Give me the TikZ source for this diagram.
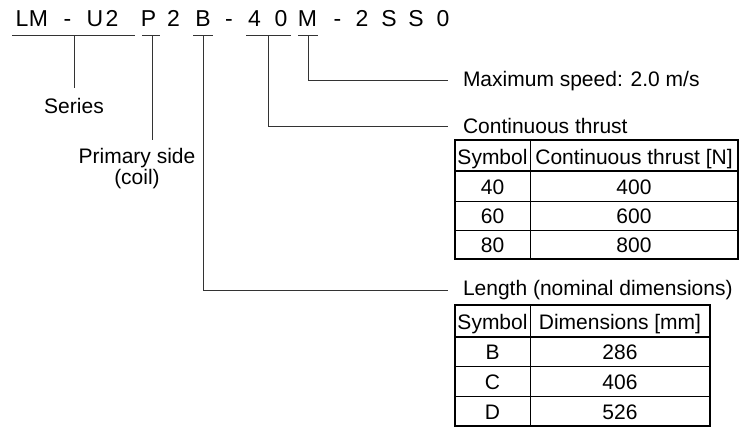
\documentclass[tikz,border=0pt]{standalone}
\usepackage{fontspec}
\setmainfont{Liberation Sans}
\begin{document}
\begin{tikzpicture}[x=1pt,y=-1pt,
  every node/.style={inner sep=0pt, outer sep=0pt},
  ch/.style={anchor=base, font=\fontsize{23}{27}\selectfont},
  lbl/.style={font=\fontsize{21}{25}\selectfont},
  cell/.style={anchor=base, font=\fontsize{21}{25}\selectfont},
  conn/.style={line width=1pt, black!80},
  uline/.style={line width=1pt, black!80},
  outer/.style={line width=2.6pt},
  hsep/.style={line width=2pt},
  inner/.style={line width=1pt}]
\useasboundingbox (0,0) rectangle (741,429);

% model code characters
\foreach \x/\c [count=\i] in {22/L,38.5/M,67.5/-,95/U,112/2,148.5/P,173.5/2,203/B,229/-,254.5/4,281/0,307.5/M,337.5/-,362/2,389/S,416/S,443/0}
  \node[ch] (c\i) at (\x,26) {\c};

% underlines
\coordinate (u1a) at (12,35);  \coordinate (u1b) at (135,35);
\coordinate (u2a) at (142,35); \coordinate (u2b) at (160,35);
\coordinate (u3a) at (193,35); \coordinate (u3b) at (213,35);
\coordinate (u4a) at (246,35); \coordinate (u4b) at (291,35);
\coordinate (u5a) at (298,35); \coordinate (u5b) at (318,35);
\draw[uline] (u1a) -- (u1b);
\draw[uline] (u2a) -- (u2b);
\draw[uline] (u3a) -- (u3b);
\draw[uline] (u4a) -- (u4b);
\draw[uline] (u5a) -- (u5b);

% stem tops
\coordinate (sSeries) at (74,35);
\coordinate (sPrim) at (152,35);
\coordinate (sLen) at (203,35);
\coordinate (sThr) at (268,35);
\coordinate (sSpd) at (308,35);

% labels
\node[lbl, anchor=base] (series) at (74,113) {Series};
\node[lbl, anchor=base] (prim) at (137,163) {Primary side};
\node[lbl, anchor=base] (coil) at (137,184) {(coil)};
\node[lbl, anchor=base west] (spd) at (463,86) {Maximum speed: 2.0 m/s};
\node[lbl, anchor=base west] (thr) at (463,133) {Continuous thrust};
\node[lbl, anchor=base west] (len) at (463,295) {Length (nominal dimensions)};

\coordinate (eSeries) at (74,88);
\coordinate (ePrim) at (152,140);
\coordinate (eSpd) at (448,80);
\coordinate (eThr) at (448,126);
\coordinate (eLen) at (448,290);

\draw[conn] (sSeries) -- (eSeries);
\draw[conn] (sPrim) -- (ePrim);
\draw[conn] (sSpd) |- (eSpd);
\draw[conn] (sThr) |- (eThr);
\draw[conn] (sLen) |- (eLen);

% table 1
\draw[inner] (455,201) -- (738,201);
\draw[inner] (455,230.5) -- (738,230.5);
\draw[inner] (530,140) -- (530,259);
\draw[hsep] (455,171) -- (738,171);
\draw[outer] (455,140) rectangle (738,259);
\node[cell] (t1h1) at (492.5,164) {Symbol};
\node[cell] (t1h2) at (634,164) {Continuous thrust [N]};
\node[cell] (t1a1) at (492.5,194) {40};
\node[cell] (t1a2) at (634,194) {400};
\node[cell] (t1b1) at (492.5,223.5) {60};
\node[cell] (t1b2) at (634,223.5) {600};
\node[cell] (t1c1) at (492.5,252.5) {80};
\node[cell] (t1c2) at (634,252.5) {800};

% table 2
\draw[inner] (455,366.5) -- (710,366.5);
\draw[inner] (455,396.5) -- (710,396.5);
\draw[inner] (530.5,305) -- (530.5,426);
\draw[hsep] (455,336.5) -- (710,336.5);
\draw[outer] (455,305) rectangle (710,426);
\node[cell] (t2h1) at (492.5,329.5) {Symbol};
\node[cell] (t2h2) at (620,329.5) {Dimensions [mm]};
\node[cell] (t2a1) at (492.5,359.5) {B};
\node[cell] (t2a2) at (620,359.5) {286};
\node[cell] (t2b1) at (492.5,389.5) {C};
\node[cell] (t2b2) at (620,389.5) {406};
\node[cell] (t2c1) at (492.5,419) {D};
\node[cell] (t2c2) at (620,419) {526};
\end{tikzpicture}
\end{document}
